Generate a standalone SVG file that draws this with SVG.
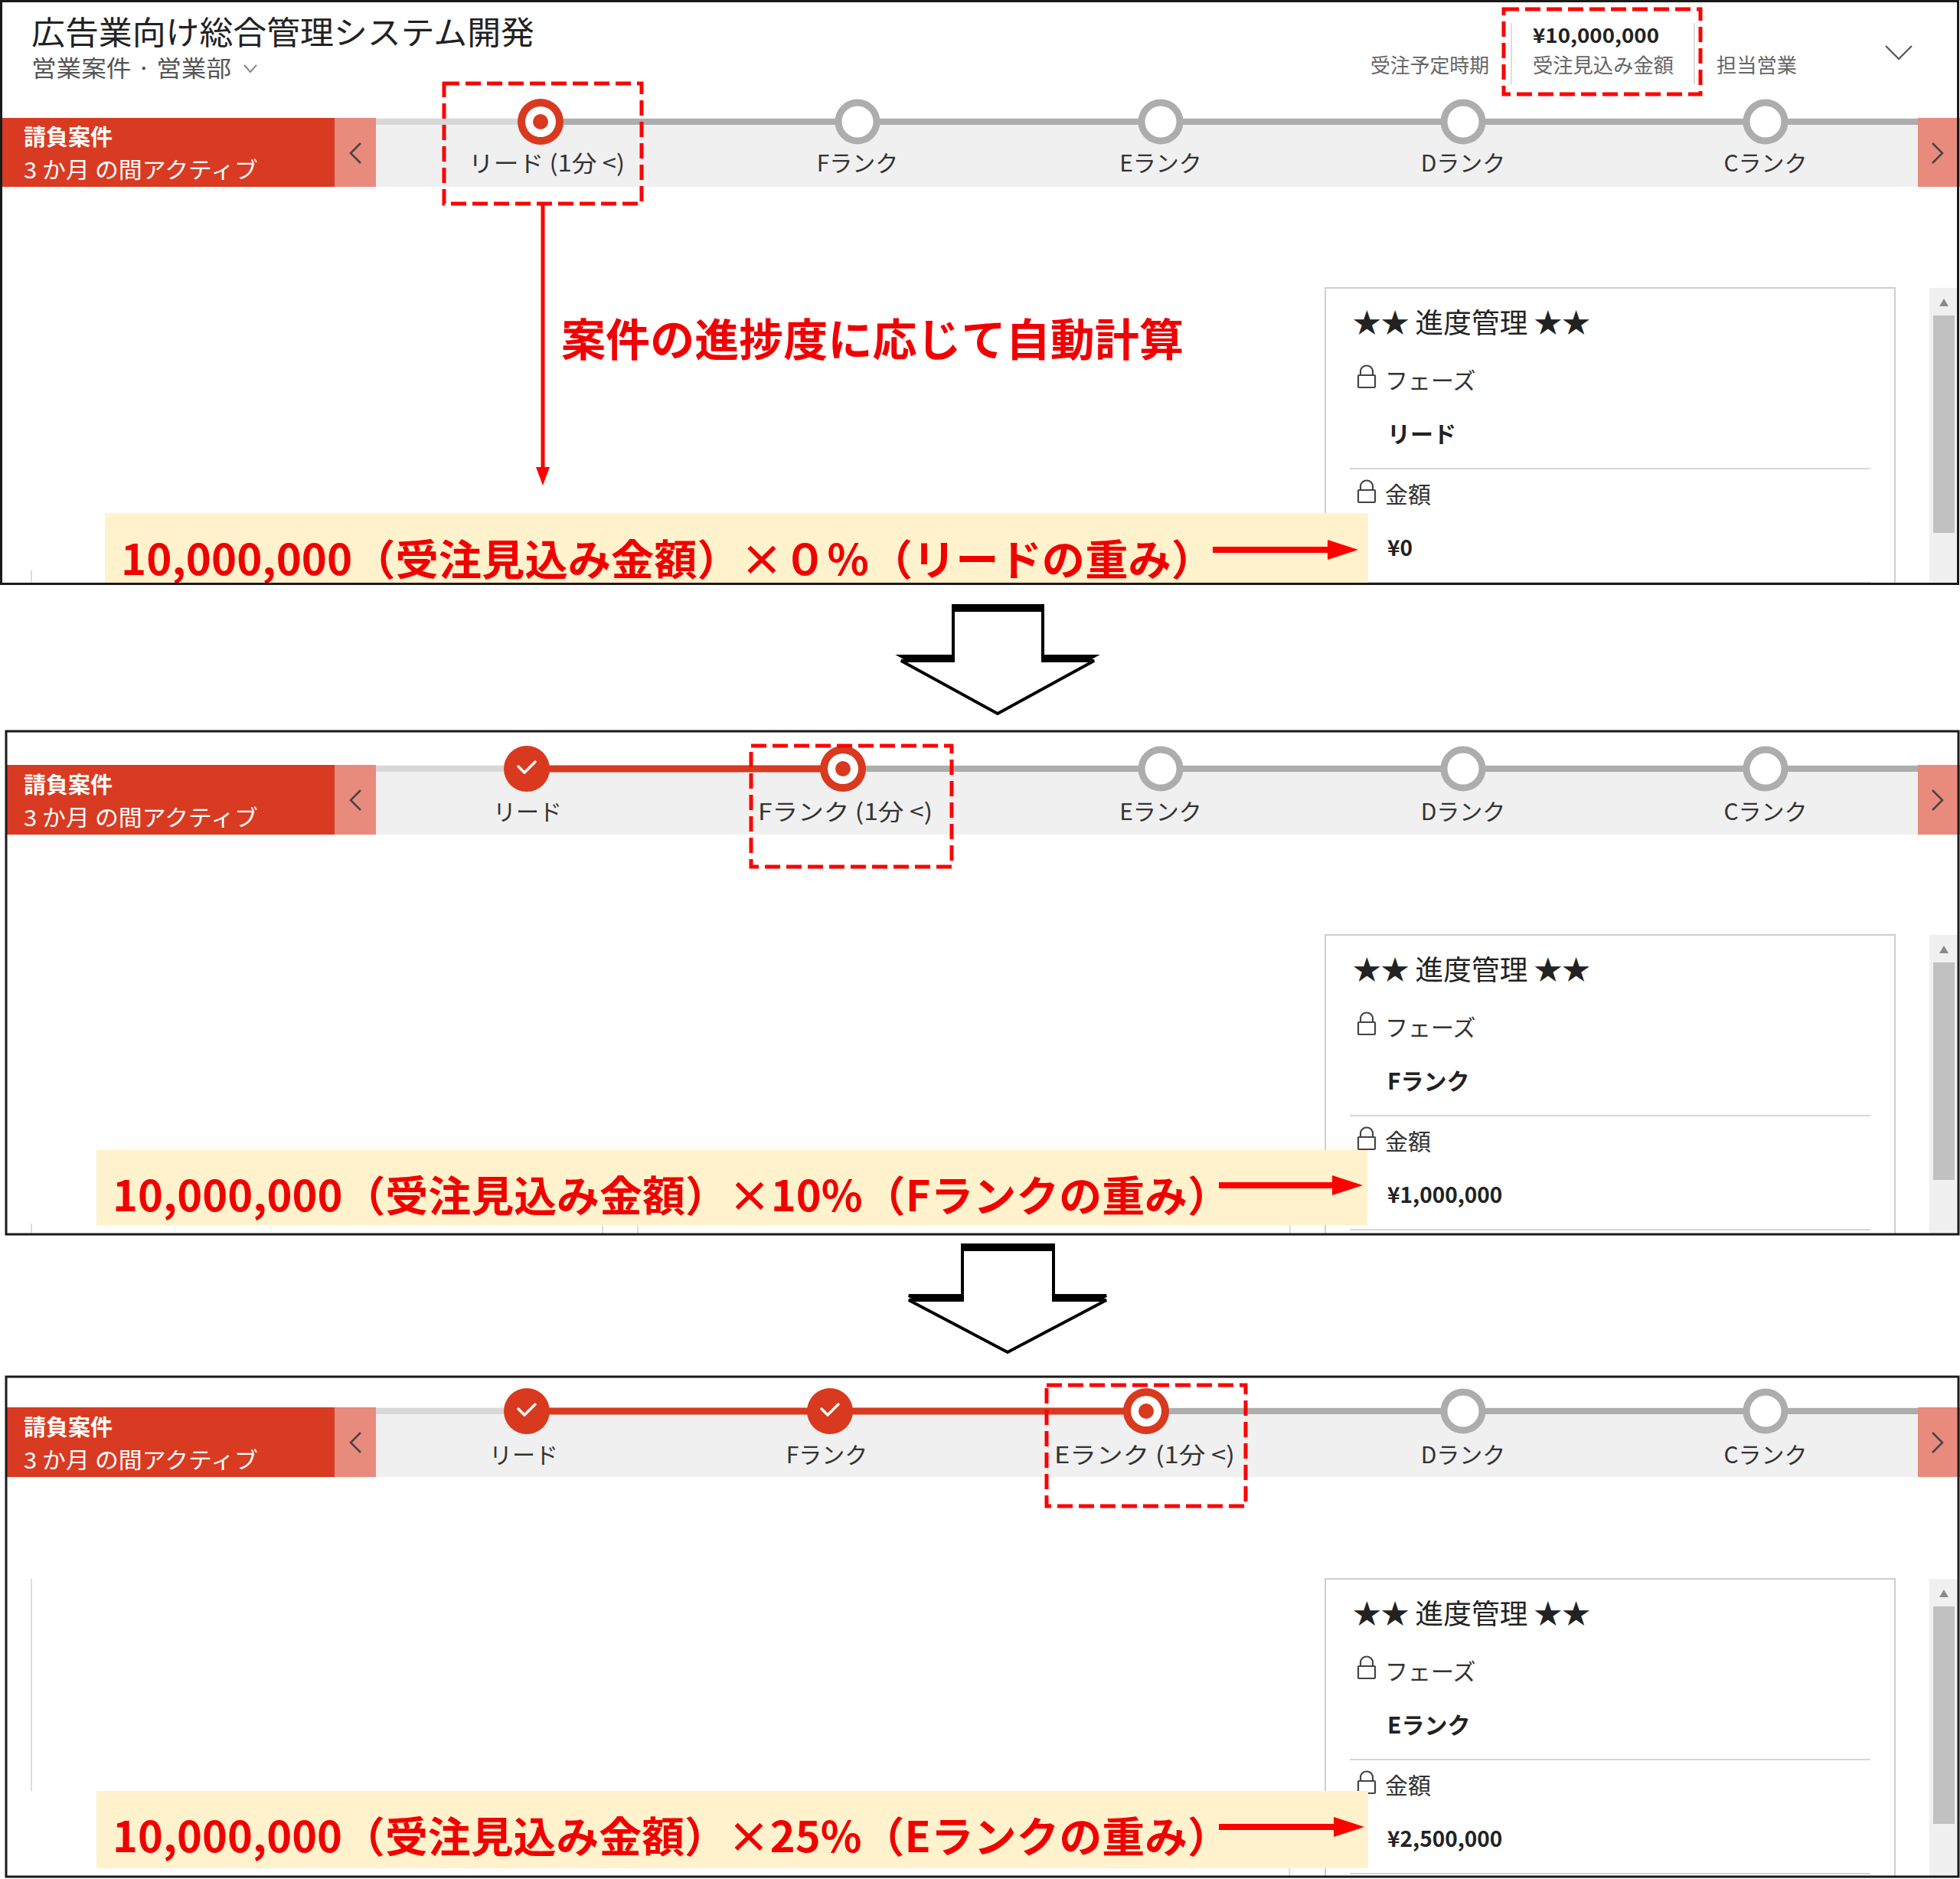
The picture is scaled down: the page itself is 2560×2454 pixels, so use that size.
<svg xmlns="http://www.w3.org/2000/svg" xmlns:xlink="http://www.w3.org/1999/xlink" width="2560" height="2454" viewBox="0 0 2560 2454">
<style>
text{font-family:"Noto Sans CJK JP","Noto Sans",sans-serif}
.lbl{font-size:30px;fill:#333;text-anchor:middle}
.wht{font-size:29px;fill:#fff}
.hdr{font-size:26px;fill:#666}
.ctitle{font-size:36px;fill:#222}
.cfield{font-size:30px;fill:#333}
.cval{font-size:30px;fill:#222;font-weight:bold}
.camt{font-size:28px;fill:#222;font-weight:bold}
.formula{font-size:55px;fill:#F00000;font-weight:bold}
.note{font-size:58px;fill:#F00000;font-weight:bold}
.redblk{fill:#D83B22}
.navbox{fill:#E88B7D}
.graybar{fill:#F0F0F0}
.chev{fill:none;stroke:#444;stroke-width:2.5}
.stripeL{stroke:#D8D8D8;stroke-width:8}
.stripeD{stroke:#ADADAD;stroke-width:8}
.stripeR{stroke:#D9391F;stroke-width:9}
.future{fill:#fff;stroke:#ADADAD;stroke-width:9}
.red{fill:#D9391F}
.white{fill:#fff}
.check{fill:none;stroke:#fff;stroke-width:3.5;stroke-linecap:round;stroke-linejoin:round}
.dash{fill:none;stroke:#FF0000;stroke-width:5;stroke-dasharray:20 8}
.card{fill:none;stroke:#CFCFCF;stroke-width:2}
.sep{stroke:#D6D6D6;stroke-width:2}
.track{fill:#F0F0F0}
.thumb{fill:#C1C1C1}
.band{fill:#FFF2CC}
.frame{fill:none;stroke:#1A1A1A;stroke-width:3}
.faint{stroke:#DDDDDD;stroke-width:2}
.redline{stroke:#FF0000;fill:none}
.bigarrow{fill:#fff;stroke:#000;stroke-width:4;stroke-linejoin:miter}
</style>
<defs>
<marker id="arrH" viewBox="0 0 40 26" markerWidth="40" markerHeight="26" refX="10" refY="13" orient="auto" markerUnits="userSpaceOnUse">
<path d="M0,0 L40,13 L0,26 z" fill="#FF0000"/>
</marker>
<marker id="arrV" viewBox="0 0 24 18" markerWidth="24" markerHeight="18" refX="6" refY="9" orient="auto" markerUnits="userSpaceOnUse">
<path d="M0,0 L24,9 L0,18 z" fill="#FF0000"/>
</marker>
<g id="lock">
<path d="M4,13 V8 a8,7.5 0 0 1 16,0 V13" fill="none" stroke="#444" stroke-width="2.2"/>
<rect x="1" y="13" width="22" height="16" rx="1" fill="none" stroke="#444" stroke-width="2.2"/>
</g>
</defs>

<rect x="0" y="0" width="2560" height="2454" fill="#fff"/>

<!-- ================= PANEL 1 ================= -->
<g id="panel1">
<g id="p1-header">
<text x="41" y="58" font-size="42" fill="#222" textLength="657" lengthAdjust="spacingAndGlyphs">広告業向け総合管理システム開発</text>
<text x="41" y="100" font-size="30" fill="#555" textLength="261" lengthAdjust="spacingAndGlyphs">営業案件 · 営業部</text>
<polyline points="319,85 327,94 335,85" fill="none" stroke="#888" stroke-width="2"/>
<text class="hdr" x="1790" y="95" textLength="155" lengthAdjust="spacingAndGlyphs">受注予定時期</text>
<line class="faint" x1="1974" y1="30" x2="1974" y2="110"/>
<line class="faint" x1="2213" y1="30" x2="2213" y2="110"/>
<text x="2002" y="56" font-size="26" font-weight="bold" fill="#222" textLength="165" lengthAdjust="spacingAndGlyphs">¥10,000,000</text>
<text class="hdr" x="2002" y="95" textLength="184" lengthAdjust="spacingAndGlyphs">受注見込み金額</text>
<text class="hdr" x="2242" y="95" textLength="105" lengthAdjust="spacingAndGlyphs">担当営業</text>
<polyline points="2463,60 2480,77 2497,60" fill="none" stroke="#555" stroke-width="2.2"/>
</g>
<g id="p1-bar">
<rect class="redblk" x="0" y="154" width="437" height="90"/>
<rect class="navbox" x="437" y="154" width="54" height="90"/>
<rect class="graybar" x="491" y="154" width="2014" height="90"/>
<rect class="navbox" x="2505" y="154" width="55" height="90"/>
<polyline class="chev" points="471,187 458,200 471,213"/>
<polyline class="chev" points="2524,187 2537,200 2524,213"/>
<text class="wht" x="31" y="190" font-weight="bold">請負案件</text>
<text class="wht" x="31" y="233" textLength="306" lengthAdjust="spacingAndGlyphs">3 か月 の間アクティブ</text>
<line class="stripeL" x1="491" y1="159" x2="706" y2="159"/>
<line class="stripeD" x1="706" y1="159" x2="2505" y2="159"/>
</g>
<g id="p1-stage-lead">
<circle class="red" cx="706" cy="159" r="30"/>
<circle class="white" cx="706" cy="159" r="20"/>
<circle class="red" cx="706" cy="159" r="10"/>
<text class="lbl" x="714" y="224" textLength="204" lengthAdjust="spacingAndGlyphs">リード (1分 &lt;)</text>
</g>
<g id="p1-stage-f"><circle class="future" cx="1120" cy="159" r="25"/><text class="lbl" x="1120" y="224">Fランク</text></g>
<g id="p1-stage-e"><circle class="future" cx="1516" cy="159" r="25"/><text class="lbl" x="1516" y="224">Eランク</text></g>
<g id="p1-stage-d"><circle class="future" cx="1911" cy="159" r="25"/><text class="lbl" x="1911" y="224">Dランク</text></g>
<g id="p1-stage-c"><circle class="future" cx="2306" cy="159" r="25"/><text class="lbl" x="2306" y="224">Cランク</text></g>
<rect id="p1-box-lead" class="dash" x="580" y="109" width="258" height="157"/>
<rect id="p1-box-amount" class="dash" x="1964" y="12" width="257" height="111"/>
<text id="p1-note" class="note" x="733" y="465" textLength="813" lengthAdjust="spacingAndGlyphs">案件の進捗度に応じて自動計算</text>
<g id="p1-card">
<path class="card" d="M1731,762 V376 H2475 V762"/>
<rect class="track" x="2520" y="376" width="38" height="386"/>
<polygon points="2533,400 2545,400 2539,390" fill="#8A8A8A"/>
<rect class="thumb" x="2525" y="412" width="28" height="284"/>
<text class="ctitle" x="1767" y="435" textLength="310" lengthAdjust="spacingAndGlyphs">★★ 進度管理 ★★</text>
<use xlink:href="#lock" href="#lock" x="1773" y="477"/>
<text class="cfield" x="1809" y="508">フェーズ</text>
<text class="cval" x="1812" y="578">リード</text>
<line class="sep" x1="1763" y1="612" x2="2443" y2="612"/>
<use xlink:href="#lock" href="#lock" x="1773" y="627"/>
<text class="cfield" x="1809" y="657">金額</text>
<text class="camt" x="1812" y="726">¥0</text>
<line class="sep" x1="1763" y1="761" x2="2443" y2="761"/>
</g>
<line class="faint" x1="41" y1="745" x2="41" y2="762"/>
<g id="p1-formula">
<rect class="band" x="137" y="670" width="1650" height="92"/>
<text class="formula" x="158" y="751" textLength="1428" lengthAdjust="spacingAndGlyphs">10,000,000（受注見込み金額）×０％（リードの重み）</text>
</g>
<rect class="frame" x="1.5" y="1.5" width="2556" height="761"/>
</g>

<!-- ================= PANEL 2 ================= -->
<g id="panel2">
<g id="p2-bar">
<rect class="redblk" x="8" y="999" width="429" height="91"/>
<rect class="navbox" x="437" y="999" width="54" height="91"/>
<rect class="graybar" x="491" y="999" width="2014" height="91"/>
<rect class="navbox" x="2505" y="999" width="55" height="91"/>
<polyline class="chev" points="471,1032 458,1045 471,1058"/>
<polyline class="chev" points="2524,1032 2537,1045 2524,1058"/>
<text class="wht" x="31" y="1036" font-weight="bold">請負案件</text>
<text class="wht" x="31" y="1079" textLength="306" lengthAdjust="spacingAndGlyphs">3 か月 の間アクティブ</text>
<line class="stripeL" x1="491" y1="1004" x2="688" y2="1004"/>
<line class="stripeR" x1="688" y1="1004" x2="1101" y2="1004"/>
<line class="stripeD" x1="1101" y1="1004" x2="2505" y2="1004"/>
</g>
<g id="p2-stage-lead">
<circle class="red" cx="688" cy="1004" r="30"/>
<polyline class="check" points="677,1001 685,1009 699,995"/>
<text class="lbl" x="689" y="1071">リード</text>
</g>
<g id="p2-stage-f">
<circle class="red" cx="1101" cy="1004" r="30"/>
<circle class="white" cx="1101" cy="1004" r="20"/>
<circle class="red" cx="1101" cy="1004" r="10"/>
<text class="lbl" x="1104" y="1071" textLength="228" lengthAdjust="spacingAndGlyphs">Fランク (1分 &lt;)</text>
</g>
<g id="p2-stage-e"><circle class="future" cx="1516" cy="1004" r="25"/><text class="lbl" x="1516" y="1071">Eランク</text></g>
<g id="p2-stage-d"><circle class="future" cx="1911" cy="1004" r="25"/><text class="lbl" x="1911" y="1071">Dランク</text></g>
<g id="p2-stage-c"><circle class="future" cx="2306" cy="1004" r="25"/><text class="lbl" x="2306" y="1071">Cランク</text></g>
<rect id="p2-box-f" class="dash" x="981" y="974" width="262" height="158"/>
<g id="p2-card">
<path class="card" d="M1731,1612 V1221 H2475 V1612"/>
<rect class="track" x="2520" y="1221" width="38" height="391"/>
<polygon points="2533,1245 2545,1245 2539,1235" fill="#8A8A8A"/>
<rect class="thumb" x="2525" y="1257" width="28" height="284"/>
<text class="ctitle" x="1767" y="1280" textLength="310" lengthAdjust="spacingAndGlyphs">★★ 進度管理 ★★</text>
<use xlink:href="#lock" href="#lock" x="1773" y="1322"/>
<text class="cfield" x="1809" y="1353">フェーズ</text>
<text class="cval" x="1812" y="1423">Fランク</text>
<line class="sep" x1="1763" y1="1457" x2="2443" y2="1457"/>
<use xlink:href="#lock" href="#lock" x="1773" y="1472"/>
<text class="cfield" x="1809" y="1502">金額</text>
<text class="camt" x="1812" y="1571">¥1,000,000</text>
<line class="sep" x1="1763" y1="1606" x2="2443" y2="1606"/>
</g>
<line class="faint" x1="41" y1="1598" x2="41" y2="1612"/>
<line class="faint" x1="787" y1="1598" x2="787" y2="1612"/>
<line class="faint" x1="833" y1="1598" x2="833" y2="1612"/>
<line class="faint" x1="1685" y1="1598" x2="1685" y2="1612"/>
<g id="p2-formula">
<rect class="band" x="126" y="1502" width="1660" height="98"/>
<text class="formula" x="147" y="1582" textLength="1460" lengthAdjust="spacingAndGlyphs">10,000,000（受注見込み金額）×10%（Fランクの重み）</text>
</g>
<rect class="frame" x="8" y="955" width="2550" height="657"/>
</g>

<!-- ================= PANEL 3 ================= -->
<g id="panel3">
<g id="p3-bar">
<rect class="redblk" x="8" y="1838" width="429" height="91"/>
<rect class="navbox" x="437" y="1838" width="54" height="91"/>
<rect class="graybar" x="491" y="1838" width="2014" height="91"/>
<rect class="navbox" x="2505" y="1838" width="55" height="91"/>
<polyline class="chev" points="471,1871 458,1884 471,1897"/>
<polyline class="chev" points="2524,1871 2537,1884 2524,1897"/>
<text class="wht" x="31" y="1875" font-weight="bold">請負案件</text>
<text class="wht" x="31" y="1918" textLength="306" lengthAdjust="spacingAndGlyphs">3 か月 の間アクティブ</text>
<line class="stripeL" x1="491" y1="1843" x2="688" y2="1843"/>
<line class="stripeR" x1="688" y1="1843" x2="1497" y2="1843"/>
<line class="stripeD" x1="1497" y1="1843" x2="2505" y2="1843"/>
</g>
<g id="p3-stage-lead">
<circle class="red" cx="688" cy="1843" r="30"/>
<polyline class="check" points="677,1840 685,1848 699,1834"/>
<text class="lbl" x="684" y="1911">リード</text>
</g>
<g id="p3-stage-f">
<circle class="red" cx="1084" cy="1843" r="30"/>
<polyline class="check" points="1073,1840 1081,1848 1095,1834"/>
<text class="lbl" x="1080" y="1911">Fランク</text>
</g>
<g id="p3-stage-e">
<circle class="red" cx="1497" cy="1843" r="30"/>
<circle class="white" cx="1497" cy="1843" r="20"/>
<circle class="red" cx="1497" cy="1843" r="10"/>
<text class="lbl" x="1495" y="1911" textLength="236" lengthAdjust="spacingAndGlyphs">Eランク (1分 &lt;)</text>
</g>
<g id="p3-stage-d"><circle class="future" cx="1911" cy="1843" r="25"/><text class="lbl" x="1911" y="1911">Dランク</text></g>
<g id="p3-stage-c"><circle class="future" cx="2306" cy="1843" r="25"/><text class="lbl" x="2306" y="1911">Cランク</text></g>
<rect id="p3-box-e" class="dash" x="1367" y="1809" width="260" height="158"/>
<g id="p3-card">
<path class="card" d="M1731,2451 V2062 H2475 V2451"/>
<rect class="track" x="2520" y="2062" width="38" height="389"/>
<polygon points="2533,2086 2545,2086 2539,2076" fill="#8A8A8A"/>
<rect class="thumb" x="2525" y="2098" width="28" height="284"/>
<text class="ctitle" x="1767" y="2121" textLength="310" lengthAdjust="spacingAndGlyphs">★★ 進度管理 ★★</text>
<use xlink:href="#lock" href="#lock" x="1773" y="2163"/>
<text class="cfield" x="1809" y="2194">フェーズ</text>
<text class="cval" x="1812" y="2264">Eランク</text>
<line class="sep" x1="1763" y1="2298" x2="2443" y2="2298"/>
<use xlink:href="#lock" href="#lock" x="1773" y="2313"/>
<text class="cfield" x="1809" y="2343">金額</text>
<text class="camt" x="1812" y="2412">¥2,500,000</text>
<line class="sep" x1="1763" y1="2447" x2="2443" y2="2447"/>
</g>
<line class="faint" x1="41" y1="2062" x2="41" y2="2339"/>
<line class="faint" x1="1684" y1="2440" x2="1684" y2="2451"/>
<g id="p3-formula">
<rect class="band" x="126" y="2339" width="1661" height="101"/>
<text class="formula" x="147" y="2419" textLength="1460" lengthAdjust="spacingAndGlyphs">10,000,000（受注見込み金額）×25%（Eランクの重み）</text>
</g>
<rect class="frame" x="8" y="1798" width="2550" height="653"/>
</g>

<!-- ================= CONNECTORS ================= -->
<g id="connectors">
<line class="redline" x1="709" y1="268" x2="709" y2="616" stroke-width="5" marker-end="url(#arrV)"/>
<line class="redline" x1="1584" y1="718" x2="1744" y2="718" stroke-width="8" marker-end="url(#arrH)"/>
<line class="redline" x1="1592" y1="1548" x2="1750" y2="1548" stroke-width="8" marker-end="url(#arrH)"/>
<line class="redline" x1="1592" y1="2386" x2="1752" y2="2386" stroke-width="8" marker-end="url(#arrH)"/>
<g id="step-arrow-1">
<polygon points="1245,791 1362,791 1362,857 1429,857 1303,927 1177,857 1245,857" fill="#000" stroke="#000" stroke-width="4"/>
<polygon class="bigarrow" points="1245,797 1362,797 1362,863 1429,863 1303,932 1177,863 1245,863"/>
</g>
<g id="step-arrow-2">
<polygon points="1257,1626 1376,1626 1376,1692 1445,1692 1316,1761 1187,1692 1257,1692" fill="#000" stroke="#000" stroke-width="4"/>
<polygon class="bigarrow" points="1257,1632 1376,1632 1376,1698 1445,1698 1316,1766 1187,1698 1257,1698"/>
</g>
</g>
</svg>
